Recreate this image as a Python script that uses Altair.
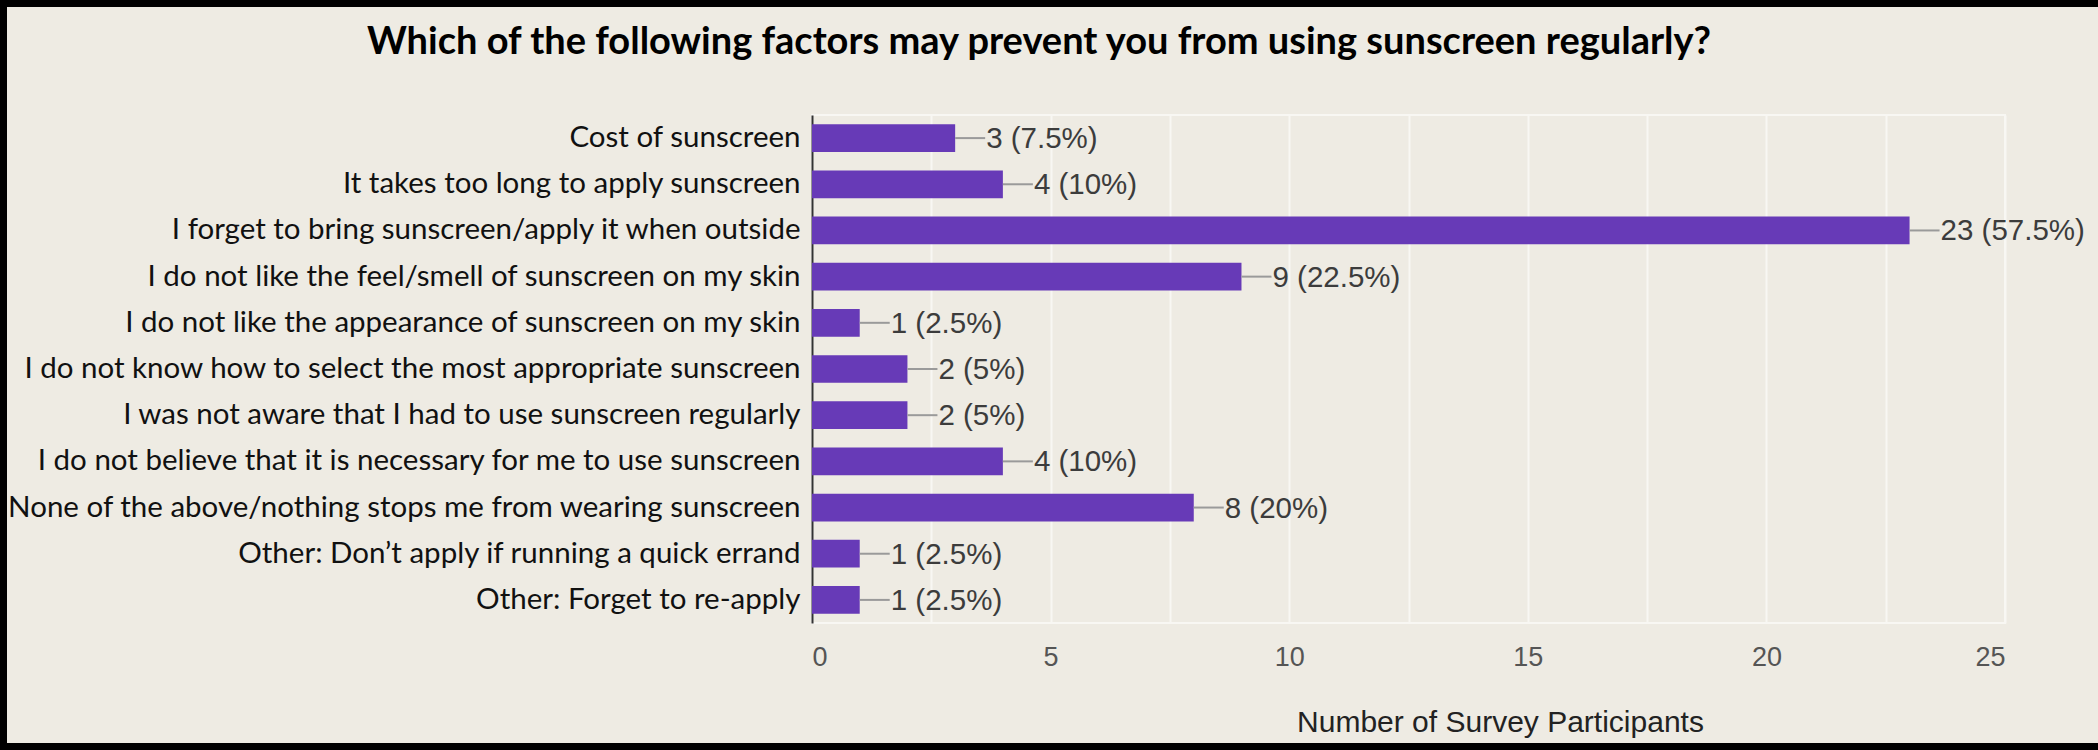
import altair as alt
import pandas as pd

# Survey responses (40 participants, multiple answers allowed)
factors = [
    "Cost of sunscreen",
    "It takes too long to apply sunscreen",
    "I forget to bring sunscreen/apply it when outside",
    "I do not like the feel/smell of sunscreen on my skin",
    "I do not like the appearance of sunscreen on my skin",
    "I do not know how to select the most appropriate sunscreen",
    "I was not aware that I had to use sunscreen regularly",
    "I do not believe that it is necessary for me to use sunscreen",
    "None of the above/nothing stops me from wearing sunscreen",
    "Other: Don\u2019t apply if running a quick errand",
    "Other: Forget to re-apply",
]
counts = [3, 4, 23, 9, 1, 2, 2, 4, 8, 1, 1]
percents = ["7.5%", "10%", "57.5%", "22.5%", "2.5%", "5%", "5%", "10%", "20%", "2.5%", "2.5%"]
x_ticks = [0, 2.5, 5, 7.5, 10, 12.5, 15, 17.5, 20, 22.5, 25]
title_text = "Which of the following factors may prevent you from using sunscreen regularly?"

df = pd.DataFrame({"factor": factors, "count": counts, "pct": percents})
df["label"] = df["count"].astype(str) + " (" + df["pct"] + ")"

BG = "#EEEBE3"
PURPLE = "#673AB7"
GRID = "#F8F7F3"

x_scale = alt.Scale(domain=[0, 25], nice=False)
y_enc = alt.Y(
    "factor:N",
    sort=None,
    scale=alt.Scale(paddingInner=0.4, paddingOuter=0.2),
    axis=alt.Axis(
        title=None,
        ticks=False,
        grid=False,
        domainColor="#333333",
        domainWidth=2,
        labelFont="Lato",
        labelFontSize=29.5,
        labelColor="#111111",
        labelPadding=12,
        labelLimit=900,
    ),
)

bars = alt.Chart(df).mark_bar(color=PURPLE).encode(
    x=alt.X(
        "count:Q",
        scale=x_scale,
        axis=alt.Axis(
            values=x_ticks,
            labelExpr="datum.value % 5 == 0 ? datum.label : ''",
            title="Number of Survey Participants",
            titleFont="Liberation Sans",
            titleFontSize=30,
            titleFontWeight="normal",
            titleColor="#222222",
            titleX=688,
            titleY=99,
            titleBaseline="middle",
            titleAlign="center",
            domain=False,
            ticks=False,
            grid=True,
            gridColor=GRID,
            gridWidth=2,
            labelFont="Liberation Sans",
            labelFontSize=27,
            labelColor="#555555",
            labelPadding=21,
        ),
    ),
    y=y_enc,
)

connectors = alt.Chart(df).mark_rule(color="#9A9A9A", strokeWidth=2, x2Offset=30).encode(
    x=alt.X("count:Q", scale=x_scale),
    x2="count:Q",
    y=alt.Y("factor:N", sort=None),
)

labels = alt.Chart(df).mark_text(
    align="left", baseline="middle", dx=31, dy=1,
    font="Liberation Sans", fontSize=29.5, color="#3C3C3C",
).encode(
    x=alt.X("count:Q", scale=x_scale),
    y=alt.Y("factor:N", sort=None),
    text="label:N",
)

# heading above the chart
heading = alt.Chart(pd.DataFrame({"t": [title_text]})).mark_text(
    align="center", baseline="alphabetic",
    font="Lato", fontSize=38, fontWeight="bold", color="#000000",
).encode(
    x=alt.value(227), y=alt.value(-61), text="t:N",
)

# black frame around the whole figure
frame = alt.Chart(df).mark_rect(
    fill=None, stroke="#000000", strokeWidth=7, clip=False
).encode(
    x=alt.value(-809), x2=alt.value(1290),
    y=alt.value(-112), y2=alt.value(632),
)

chart = alt.layer(bars, connectors, labels, heading, frame).properties(
    width=1193,
    height=508,
    padding={"left": 812, "top": 115, "right": 93, "bottom": 127},
    autosize=alt.AutoSizeParams(type="none"),
    background=BG,
).configure_view(stroke=GRID, strokeWidth=2, fill=BG)

chart.save("out.html", embed_options={"renderer": "svg", "actions": False})
